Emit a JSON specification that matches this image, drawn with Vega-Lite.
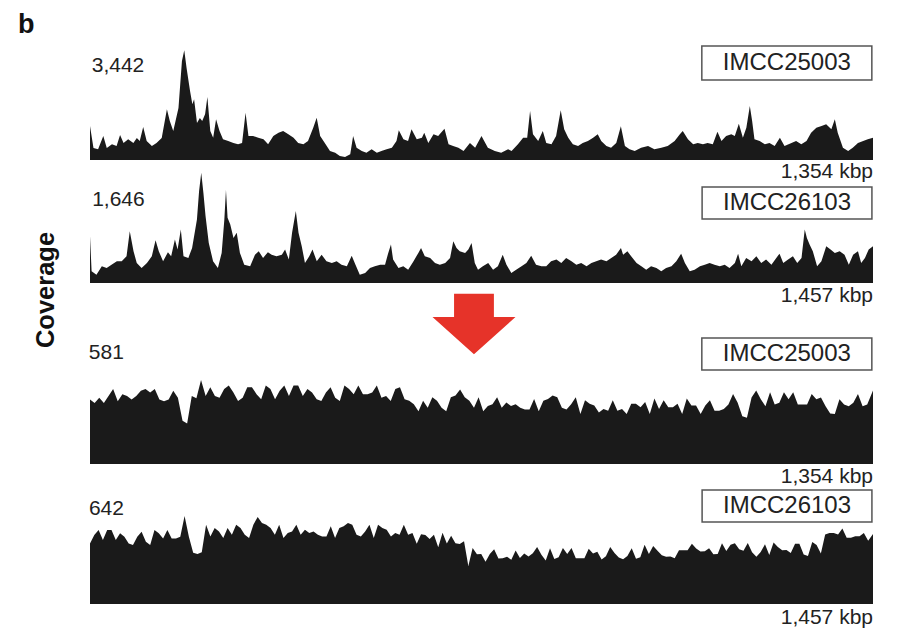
{
"$schema": "https://vega.github.io/schema/vega-lite/v6.json",
"padding": {"left": 18, "top": 11, "right": 10, "bottom": 5},
"background": "white",
"bounds": "flush",
"spacing": 0,
"config": {"view": {"stroke": null}, "text": {"font": "Liberation Sans"}},
"datasets": {
"t1": [{"x":0,"y":1067},{"x":6,"y":377},{"x":14,"y":336},{"x":23,"y":753},{"x":29,"y":377},{"x":38,"y":493},{"x":46,"y":439},{"x":52,"y":785},{"x":58,"y":533},{"x":66,"y":650},{"x":75,"y":533},{"x":81,"y":690},{"x":86,"y":596},{"x":92,"y":1036},{"x":98,"y":596},{"x":107,"y":439},{"x":115,"y":533},{"x":124,"y":690},{"x":133,"y":1591},{"x":138,"y":1224},{"x":144,"y":910},{"x":153,"y":1632},{"x":159,"y":3107},{"x":163,"y":3442},{"x":167,"y":2887},{"x":173,"y":2165},{"x":177,"y":1748},{"x":180,"y":1905},{"x":185,"y":1161},{"x":190,"y":1318},{"x":194,"y":1224},{"x":199,"y":1434},{"x":203,"y":1977},{"x":208,"y":910},{"x":213,"y":700},{"x":218,"y":1277},{"x":224,"y":910},{"x":230,"y":650},{"x":239,"y":596},{"x":248,"y":533},{"x":256,"y":493},{"x":263,"y":533},{"x":269,"y":1484},{"x":274,"y":753},{"x":282,"y":753},{"x":291,"y":700},{"x":300,"y":650},{"x":308,"y":493},{"x":317,"y":753},{"x":326,"y":857},{"x":334,"y":910},{"x":343,"y":806},{"x":352,"y":700},{"x":360,"y":533},{"x":369,"y":493},{"x":377,"y":596},{"x":386,"y":1014},{"x":392,"y":1327},{"x":398,"y":753},{"x":406,"y":533},{"x":415,"y":282},{"x":424,"y":229},{"x":432,"y":126},{"x":441,"y":94},{"x":450,"y":179},{"x":455,"y":753},{"x":461,"y":386},{"x":470,"y":282},{"x":478,"y":229},{"x":487,"y":336},{"x":496,"y":229},{"x":504,"y":282},{"x":513,"y":336},{"x":522,"y":386},{"x":530,"y":596},{"x":534,"y":932},{"x":542,"y":650},{"x":550,"y":596},{"x":556,"y":963},{"x":565,"y":650},{"x":574,"y":700},{"x":578,"y":857},{"x":585,"y":533},{"x":594,"y":806},{"x":602,"y":753},{"x":613,"y":982},{"x":620,"y":493},{"x":628,"y":439},{"x":637,"y":386},{"x":646,"y":282},{"x":657,"y":533},{"x":666,"y":386},{"x":677,"y":753},{"x":680,"y":650},{"x":688,"y":386},{"x":700,"y":282},{"x":711,"y":229},{"x":723,"y":336},{"x":729,"y":282},{"x":740,"y":493},{"x":749,"y":700},{"x":756,"y":700},{"x":761,"y":1538},{"x":766,"y":806},{"x":775,"y":596},{"x":783,"y":910},{"x":789,"y":533},{"x":798,"y":493},{"x":806,"y":753},{"x":814,"y":1560},{"x":820,"y":963},{"x":827,"y":700},{"x":835,"y":493},{"x":844,"y":439},{"x":852,"y":533},{"x":861,"y":596},{"x":870,"y":700},{"x":878,"y":806},{"x":884,"y":596},{"x":893,"y":439},{"x":901,"y":386},{"x":910,"y":533},{"x":918,"y":1058},{"x":925,"y":439},{"x":933,"y":336},{"x":942,"y":282},{"x":953,"y":386},{"x":965,"y":439},{"x":976,"y":336},{"x":988,"y":386},{"x":999,"y":439},{"x":1011,"y":596},{"x":1020,"y":806},{"x":1025,"y":910},{"x":1034,"y":650},{"x":1043,"y":493},{"x":1051,"y":533},{"x":1060,"y":493},{"x":1068,"y":533},{"x":1077,"y":493},{"x":1085,"y":888},{"x":1092,"y":596},{"x":1100,"y":753},{"x":1109,"y":806},{"x":1115,"y":753},{"x":1122,"y":1139},{"x":1129,"y":700},{"x":1135,"y":1014},{"x":1141,"y":1695},{"x":1145,"y":1224},{"x":1149,"y":650},{"x":1158,"y":596},{"x":1167,"y":493},{"x":1175,"y":533},{"x":1184,"y":439},{"x":1193,"y":700},{"x":1201,"y":439},{"x":1213,"y":533},{"x":1221,"y":596},{"x":1230,"y":493},{"x":1239,"y":596},{"x":1247,"y":857},{"x":1256,"y":1014},{"x":1265,"y":1067},{"x":1273,"y":1120},{"x":1282,"y":963},{"x":1288,"y":1277},{"x":1293,"y":857},{"x":1302,"y":386},{"x":1311,"y":282},{"x":1319,"y":386},{"x":1328,"y":533},{"x":1337,"y":596},{"x":1345,"y":650},{"x":1354,"y":700}],
"t2": [{"x":0,"y":699},{"x":3,"y":175},{"x":12,"y":124},{"x":22,"y":250},{"x":31,"y":224},{"x":40,"y":274},{"x":50,"y":325},{"x":59,"y":325},{"x":68,"y":399},{"x":74,"y":773},{"x":81,"y":474},{"x":87,"y":299},{"x":96,"y":224},{"x":106,"y":299},{"x":115,"y":399},{"x":122,"y":639},{"x":128,"y":474},{"x":136,"y":325},{"x":145,"y":459},{"x":151,"y":399},{"x":158,"y":648},{"x":163,"y":498},{"x":169,"y":797},{"x":174,"y":399},{"x":183,"y":374},{"x":190,"y":524},{"x":199,"y":947},{"x":203,"y":1372},{"x":207,"y":1646},{"x":211,"y":1346},{"x":215,"y":998},{"x":221,"y":598},{"x":229,"y":325},{"x":238,"y":224},{"x":245,"y":449},{"x":250,"y":947},{"x":253,"y":1387},{"x":256,"y":972},{"x":261,"y":872},{"x":267,"y":673},{"x":273,"y":748},{"x":279,"y":449},{"x":287,"y":274},{"x":298,"y":250},{"x":307,"y":423},{"x":314,"y":474},{"x":322,"y":374},{"x":331,"y":459},{"x":338,"y":423},{"x":347,"y":399},{"x":357,"y":423},{"x":363,"y":498},{"x":370,"y":349},{"x":376,"y":748},{"x":383,"y":1073},{"x":388,"y":748},{"x":394,"y":549},{"x":400,"y":299},{"x":408,"y":399},{"x":414,"y":498},{"x":422,"y":325},{"x":431,"y":423},{"x":440,"y":325},{"x":450,"y":299},{"x":459,"y":325},{"x":468,"y":274},{"x":478,"y":250},{"x":487,"y":408},{"x":494,"y":274},{"x":502,"y":124},{"x":512,"y":150},{"x":521,"y":224},{"x":530,"y":250},{"x":540,"y":274},{"x":549,"y":274},{"x":555,"y":449},{"x":560,"y":573},{"x":564,"y":349},{"x":574,"y":224},{"x":583,"y":250},{"x":592,"y":199},{"x":602,"y":325},{"x":611,"y":449},{"x":616,"y":524},{"x":623,"y":399},{"x":633,"y":374},{"x":642,"y":299},{"x":651,"y":274},{"x":661,"y":299},{"x":670,"y":374},{"x":676,"y":624},{"x":682,"y":524},{"x":688,"y":474},{"x":698,"y":449},{"x":704,"y":498},{"x":710,"y":598},{"x":716,"y":299},{"x":722,"y":199},{"x":731,"y":250},{"x":741,"y":299},{"x":750,"y":199},{"x":759,"y":250},{"x":768,"y":423},{"x":775,"y":274},{"x":784,"y":150},{"x":793,"y":199},{"x":803,"y":250},{"x":812,"y":299},{"x":821,"y":408},{"x":830,"y":274},{"x":840,"y":250},{"x":849,"y":250},{"x":858,"y":325},{"x":868,"y":349},{"x":877,"y":299},{"x":886,"y":374},{"x":896,"y":325},{"x":905,"y":274},{"x":914,"y":299},{"x":924,"y":250},{"x":933,"y":299},{"x":942,"y":325},{"x":951,"y":349},{"x":961,"y":325},{"x":970,"y":374},{"x":979,"y":423},{"x":988,"y":524},{"x":992,"y":423},{"x":1000,"y":474},{"x":1007,"y":399},{"x":1017,"y":299},{"x":1026,"y":250},{"x":1035,"y":199},{"x":1044,"y":250},{"x":1054,"y":224},{"x":1063,"y":175},{"x":1072,"y":224},{"x":1082,"y":250},{"x":1091,"y":325},{"x":1100,"y":438},{"x":1107,"y":299},{"x":1116,"y":175},{"x":1125,"y":199},{"x":1135,"y":250},{"x":1144,"y":274},{"x":1153,"y":299},{"x":1162,"y":274},{"x":1172,"y":250},{"x":1181,"y":274},{"x":1190,"y":224},{"x":1200,"y":299},{"x":1206,"y":438},{"x":1212,"y":250},{"x":1221,"y":374},{"x":1231,"y":325},{"x":1240,"y":399},{"x":1249,"y":299},{"x":1258,"y":349},{"x":1268,"y":274},{"x":1277,"y":374},{"x":1283,"y":438},{"x":1290,"y":299},{"x":1299,"y":349},{"x":1308,"y":399},{"x":1316,"y":299},{"x":1324,"y":374},{"x":1330,"y":797},{"x":1334,"y":673},{"x":1339,"y":573},{"x":1345,"y":474},{"x":1353,"y":250},{"x":1361,"y":325},{"x":1370,"y":549},{"x":1378,"y":498},{"x":1386,"y":449},{"x":1395,"y":474},{"x":1404,"y":423},{"x":1412,"y":274},{"x":1420,"y":423},{"x":1429,"y":474},{"x":1435,"y":299},{"x":1442,"y":374},{"x":1449,"y":498},{"x":1457,"y":549}],
"t3": [{"x":0,"y":446},{"x":8,"y":422},{"x":16,"y":458},{"x":24,"y":422},{"x":32,"y":470},{"x":40,"y":518},{"x":48,"y":434},{"x":56,"y":482},{"x":64,"y":470},{"x":72,"y":446},{"x":80,"y":470},{"x":88,"y":506},{"x":96,"y":518},{"x":104,"y":494},{"x":112,"y":518},{"x":120,"y":446},{"x":128,"y":434},{"x":136,"y":446},{"x":144,"y":506},{"x":152,"y":458},{"x":160,"y":300},{"x":168,"y":280},{"x":176,"y":470},{"x":184,"y":455},{"x":192,"y":581},{"x":200,"y":471},{"x":208,"y":531},{"x":216,"y":471},{"x":224,"y":459},{"x":232,"y":519},{"x":240,"y":543},{"x":248,"y":495},{"x":256,"y":435},{"x":264,"y":459},{"x":272,"y":531},{"x":280,"y":531},{"x":288,"y":483},{"x":296,"y":447},{"x":304,"y":543},{"x":312,"y":519},{"x":320,"y":447},{"x":328,"y":507},{"x":336,"y":543},{"x":344,"y":471},{"x":352,"y":543},{"x":360,"y":543},{"x":368,"y":471},{"x":376,"y":519},{"x":384,"y":495},{"x":392,"y":447},{"x":400,"y":435},{"x":408,"y":495},{"x":416,"y":531},{"x":424,"y":459},{"x":432,"y":435},{"x":440,"y":543},{"x":448,"y":519},{"x":456,"y":483},{"x":464,"y":543},{"x":472,"y":483},{"x":480,"y":483},{"x":488,"y":495},{"x":496,"y":543},{"x":504,"y":459},{"x":512,"y":471},{"x":520,"y":435},{"x":528,"y":519},{"x":536,"y":531},{"x":544,"y":447},{"x":552,"y":437},{"x":560,"y":413},{"x":568,"y":365},{"x":576,"y":437},{"x":584,"y":389},{"x":592,"y":461},{"x":600,"y":437},{"x":608,"y":389},{"x":616,"y":365},{"x":624,"y":461},{"x":632,"y":473},{"x":640,"y":515},{"x":648,"y":461},{"x":656,"y":437},{"x":664,"y":389},{"x":672,"y":461},{"x":680,"y":365},{"x":688,"y":401},{"x":696,"y":413},{"x":704,"y":461},{"x":712,"y":389},{"x":720,"y":425},{"x":728,"y":401},{"x":736,"y":413},{"x":744,"y":389},{"x":752,"y":377},{"x":760,"y":377},{"x":768,"y":449},{"x":776,"y":365},{"x":784,"y":437},{"x":792,"y":449},{"x":800,"y":473},{"x":808,"y":461},{"x":816,"y":389},{"x":824,"y":377},{"x":832,"y":413},{"x":840,"y":461},{"x":848,"y":345},{"x":856,"y":441},{"x":864,"y":417},{"x":872,"y":405},{"x":880,"y":357},{"x":888,"y":381},{"x":896,"y":369},{"x":904,"y":441},{"x":912,"y":369},{"x":920,"y":381},{"x":928,"y":345},{"x":936,"y":417},{"x":944,"y":417},{"x":952,"y":393},{"x":960,"y":429},{"x":968,"y":345},{"x":976,"y":453},{"x":984,"y":381},{"x":992,"y":441},{"x":1000,"y":393},{"x":1008,"y":393},{"x":1016,"y":417},{"x":1024,"y":345},{"x":1032,"y":453},{"x":1040,"y":405},{"x":1048,"y":405},{"x":1056,"y":345},{"x":1064,"y":405},{"x":1072,"y":441},{"x":1080,"y":369},{"x":1088,"y":369},{"x":1096,"y":381},{"x":1104,"y":412},{"x":1112,"y":484},{"x":1120,"y":424},{"x":1128,"y":330},{"x":1136,"y":320},{"x":1144,"y":460},{"x":1152,"y":508},{"x":1160,"y":448},{"x":1168,"y":400},{"x":1176,"y":496},{"x":1184,"y":412},{"x":1192,"y":424},{"x":1200,"y":496},{"x":1208,"y":448},{"x":1216,"y":496},{"x":1224,"y":412},{"x":1232,"y":412},{"x":1240,"y":412},{"x":1248,"y":484},{"x":1256,"y":448},{"x":1264,"y":460},{"x":1272,"y":400},{"x":1280,"y":350},{"x":1288,"y":345},{"x":1296,"y":448},{"x":1304,"y":412},{"x":1312,"y":400},{"x":1320,"y":424},{"x":1328,"y":484},{"x":1336,"y":400},{"x":1344,"y":412},{"x":1354,"y":508}],
"t4": [{"x":0,"y":432},{"x":8,"y":492},{"x":16,"y":528},{"x":24,"y":456},{"x":32,"y":528},{"x":40,"y":528},{"x":48,"y":456},{"x":56,"y":504},{"x":64,"y":480},{"x":72,"y":432},{"x":80,"y":420},{"x":88,"y":480},{"x":96,"y":516},{"x":104,"y":444},{"x":112,"y":420},{"x":120,"y":528},{"x":128,"y":504},{"x":136,"y":468},{"x":144,"y":528},{"x":152,"y":468},{"x":160,"y":468},{"x":168,"y":480},{"x":176,"y":628},{"x":184,"y":480},{"x":192,"y":365},{"x":200,"y":357},{"x":208,"y":370},{"x":216,"y":566},{"x":224,"y":482},{"x":232,"y":542},{"x":240,"y":518},{"x":248,"y":470},{"x":256,"y":542},{"x":264,"y":494},{"x":272,"y":566},{"x":280,"y":542},{"x":288,"y":494},{"x":296,"y":470},{"x":304,"y":566},{"x":312,"y":620},{"x":320,"y":578},{"x":328,"y":566},{"x":336,"y":542},{"x":344,"y":494},{"x":352,"y":566},{"x":360,"y":470},{"x":368,"y":506},{"x":376,"y":518},{"x":384,"y":566},{"x":392,"y":494},{"x":400,"y":530},{"x":408,"y":506},{"x":416,"y":518},{"x":424,"y":494},{"x":432,"y":482},{"x":440,"y":482},{"x":448,"y":554},{"x":456,"y":470},{"x":464,"y":542},{"x":472,"y":554},{"x":480,"y":578},{"x":488,"y":566},{"x":496,"y":494},{"x":504,"y":482},{"x":512,"y":518},{"x":520,"y":566},{"x":528,"y":470},{"x":536,"y":566},{"x":544,"y":542},{"x":552,"y":530},{"x":560,"y":482},{"x":568,"y":506},{"x":576,"y":494},{"x":584,"y":566},{"x":592,"y":494},{"x":600,"y":506},{"x":608,"y":430},{"x":616,"y":497},{"x":624,"y":492},{"x":632,"y":463},{"x":640,"y":494},{"x":648,"y":405},{"x":656,"y":508},{"x":664,"y":431},{"x":672,"y":486},{"x":680,"y":433},{"x":688,"y":428},{"x":696,"y":447},{"x":704,"y":271},{"x":712,"y":399},{"x":720,"y":355},{"x":728,"y":356},{"x":736,"y":301},{"x":744,"y":357},{"x":752,"y":390},{"x":760,"y":325},{"x":768,"y":326},{"x":776,"y":337},{"x":784,"y":316},{"x":792,"y":382},{"x":800,"y":328},{"x":808,"y":361},{"x":816,"y":339},{"x":824,"y":362},{"x":832,"y":407},{"x":840,"y":352},{"x":848,"y":310},{"x":856,"y":398},{"x":864,"y":321},{"x":872,"y":334},{"x":880,"y":400},{"x":888,"y":356},{"x":896,"y":400},{"x":904,"y":326},{"x":912,"y":327},{"x":920,"y":327},{"x":928,"y":394},{"x":936,"y":361},{"x":944,"y":373},{"x":952,"y":318},{"x":960,"y":341},{"x":968,"y":407},{"x":976,"y":364},{"x":984,"y":331},{"x":992,"y":320},{"x":1000,"y":343},{"x":1008,"y":398},{"x":1016,"y":322},{"x":1024,"y":333},{"x":1032,"y":422},{"x":1040,"y":357},{"x":1048,"y":413},{"x":1056,"y":380},{"x":1064,"y":348},{"x":1072,"y":337},{"x":1080,"y":338},{"x":1088,"y":327},{"x":1096,"y":383},{"x":1104,"y":384},{"x":1112,"y":384},{"x":1120,"y":429},{"x":1128,"y":396},{"x":1136,"y":375},{"x":1144,"y":376},{"x":1152,"y":398},{"x":1160,"y":355},{"x":1168,"y":356},{"x":1176,"y":433},{"x":1184,"y":378},{"x":1192,"y":423},{"x":1200,"y":434},{"x":1208,"y":390},{"x":1216,"y":379},{"x":1224,"y":435},{"x":1232,"y":369},{"x":1240,"y":337},{"x":1248,"y":371},{"x":1256,"y":426},{"x":1264,"y":350},{"x":1272,"y":439},{"x":1280,"y":406},{"x":1288,"y":384},{"x":1296,"y":385},{"x":1304,"y":363},{"x":1312,"y":429},{"x":1320,"y":430},{"x":1328,"y":353},{"x":1336,"y":342},{"x":1344,"y":442},{"x":1352,"y":420},{"x":1360,"y":360},{"x":1368,"y":495},{"x":1376,"y":506},{"x":1384,"y":506},{"x":1392,"y":495},{"x":1400,"y":539},{"x":1408,"y":473},{"x":1416,"y":473},{"x":1424,"y":484},{"x":1432,"y":484},{"x":1440,"y":506},{"x":1448,"y":451},{"x":1457,"y":500}]
},
"vconcat": [
{
 "width": 783, "height": 114,
 "layer": [
  {"data": {"name": "t1"}, "mark": {"type": "area", "color": "#1a1a1a"},
   "encoding": {"x": {"field": "x", "type": "quantitative", "scale": {"domain": [0, 1354], "nice": false, "zero": false}, "axis": null},
                "y": {"field": "y", "type": "quantitative", "scale": {"domain": [0, 3577], "nice": false}, "axis": null}}},
  {"data": {"values": [{}]},
   "layer": [
    {"mark": {"type": "rect", "fill": "white", "stroke": "#555555", "strokeWidth": 1.5},
     "encoding": {"x": {"datum": 1058, "axis": null}, "x2": {"datum": 1352}, "y": {"datum": 3577, "axis": null}, "y2": {"datum": 2510}}},
    {"mark": {"type": "text", "text": "IMCC25003", "fontSize": 24, "color": "#222222", "align": "center", "baseline": "middle"},
     "encoding": {"x": {"datum": 1205, "axis": null}, "y": {"datum": 3044, "axis": null}}},
    {"mark": {"type": "text", "text": "3,442", "fontSize": 21, "color": "#222222", "align": "left", "baseline": "middle"},
     "encoding": {"x": {"datum": 3, "axis": null}, "y": {"datum": 2934, "axis": null}}},
    {"mark": {"type": "text", "text": "1,354 kbp", "fontSize": 21, "color": "#222222", "align": "right", "baseline": "middle"},
     "encoding": {"x": {"datum": 1354, "axis": null}, "y": {"datum": -361, "axis": null}}},
    {"mark": {"type": "text", "text": "b", "fontSize": 27, "fontWeight": "bold", "color": "#111111", "align": "left", "baseline": "top"},
     "encoding": {"x": {"datum": -124.5, "axis": null}, "y": {"datum": 4634, "axis": null}}}
   ]}
 ]
},
{
 "width": 783, "height": 123,
 "layer": [
  {"data": {"name": "t2"}, "mark": {"type": "area", "color": "#1a1a1a"},
   "encoding": {"x": {"field": "x", "type": "quantitative", "scale": {"domain": [0, 1457], "nice": false, "zero": false}, "axis": null},
                "y": {"field": "y", "type": "quantitative", "scale": {"domain": [0, 1835], "nice": false}, "axis": null}}},
  {"data": {"values": [{}]},
   "layer": [
    {"mark": {"type": "rect", "fill": "white", "stroke": "#555555", "strokeWidth": 1.5},
     "encoding": {"x": {"datum": 1139, "axis": null}, "x2": {"datum": 1455}, "y": {"datum": 1432, "axis": null}, "y2": {"datum": 955}}},
    {"mark": {"type": "text", "text": "IMCC26103", "fontSize": 24, "color": "#222222", "align": "center", "baseline": "middle"},
     "encoding": {"x": {"datum": 1297, "axis": null}, "y": {"datum": 1194, "axis": null}}},
    {"mark": {"type": "text", "text": "1,646", "fontSize": 21, "color": "#222222", "align": "left", "baseline": "middle"},
     "encoding": {"x": {"datum": 4, "axis": null}, "y": {"datum": 1238, "axis": null}}},
    {"mark": {"type": "text", "text": "1,457 kbp", "fontSize": 21, "color": "#222222", "align": "right", "baseline": "middle"},
     "encoding": {"x": {"datum": 1457, "axis": null}, "y": {"datum": -194, "axis": null}}}
   ]}
 ]
},
{
 "width": 783, "height": 55,
 "data": {"values": [{}]},
 "layer": [
  {"mark": {"type": "point", "shape": "M-0.48,-0.73L0.48,-0.73L0.48,-0.17L1,-0.17L0,0.73L-1,-0.17L-0.48,-0.17Z", "size": 6889, "filled": true, "color": "#e63329", "opacity": 1, "strokeWidth": 0},
   "encoding": {"x": {"datum": 664, "scale": {"domain": [0, 1354], "nice": false, "zero": false}, "axis": null},
                "y": {"datum": 14, "scale": {"domain": [0, 55], "nice": false, "zero": false}, "axis": null}}},
  {"mark": {"type": "text", "text": "Coverage", "fontSize": 25.5, "fontWeight": "bold", "color": "#111111", "align": "center", "baseline": "middle", "angle": 270},
   "encoding": {"x": {"datum": -76, "axis": null}, "y": {"datum": 48, "axis": null}}}
 ]
},
{
 "width": 783, "height": 126,
 "layer": [
  {"data": {"name": "t3"}, "mark": {"type": "area", "color": "#1a1a1a"},
   "encoding": {"x": {"field": "x", "type": "quantitative", "scale": {"domain": [0, 1354], "nice": false, "zero": false}, "axis": null},
                "y": {"field": "y", "type": "quantitative", "scale": {"domain": [0, 871.5], "nice": false}, "axis": null}}},
  {"data": {"values": [{}]},
   "layer": [
    {"mark": {"type": "rect", "fill": "white", "stroke": "#555555", "strokeWidth": 1.5},
     "encoding": {"x": {"datum": 1058, "axis": null}, "x2": {"datum": 1352}, "y": {"datum": 871.5, "axis": null}, "y2": {"datum": 650}}},
    {"mark": {"type": "text", "text": "IMCC25003", "fontSize": 24, "color": "#222222", "align": "center", "baseline": "middle"},
     "encoding": {"x": {"datum": 1205, "axis": null}, "y": {"datum": 761, "axis": null}}},
    {"mark": {"type": "text", "text": "581", "fontSize": 21, "color": "#222222", "align": "left", "baseline": "middle"},
     "encoding": {"x": {"datum": -2, "axis": null}, "y": {"datum": 768, "axis": null}}},
    {"mark": {"type": "text", "text": "1,354 kbp", "fontSize": 21, "color": "#222222", "align": "right", "baseline": "middle"},
     "encoding": {"x": {"datum": 1354, "axis": null}, "y": {"datum": -93, "axis": null}}}
   ]}
 ]
},
{
 "width": 783, "height": 140,
 "layer": [
  {"data": {"name": "t4"}, "mark": {"type": "area", "color": "#1a1a1a"},
   "encoding": {"x": {"field": "x", "type": "quantitative", "scale": {"domain": [0, 1457], "nice": false, "zero": false}, "axis": null},
                "y": {"field": "y", "type": "quantitative", "scale": {"domain": [0, 998.7], "nice": false}, "axis": null}}},
  {"data": {"values": [{}]},
   "layer": [
    {"mark": {"type": "rect", "fill": "white", "stroke": "#555555", "strokeWidth": 1.5},
     "encoding": {"x": {"datum": 1139, "axis": null}, "x2": {"datum": 1455}, "y": {"datum": 813, "axis": null}, "y2": {"datum": 585}}},
    {"mark": {"type": "text", "text": "IMCC26103", "fontSize": 24, "color": "#222222", "align": "center", "baseline": "middle"},
     "encoding": {"x": {"datum": 1297, "axis": null}, "y": {"datum": 699, "axis": null}}},
    {"mark": {"type": "text", "text": "642", "fontSize": 21, "color": "#222222", "align": "left", "baseline": "middle"},
     "encoding": {"x": {"datum": -2, "axis": null}, "y": {"datum": 678, "axis": null}}},
    {"mark": {"type": "text", "text": "1,457 kbp", "fontSize": 21, "color": "#222222", "align": "right", "baseline": "middle"},
     "encoding": {"x": {"datum": 1457, "axis": null}, "y": {"datum": -100, "axis": null}}}
   ]}
 ]
}
]
}
